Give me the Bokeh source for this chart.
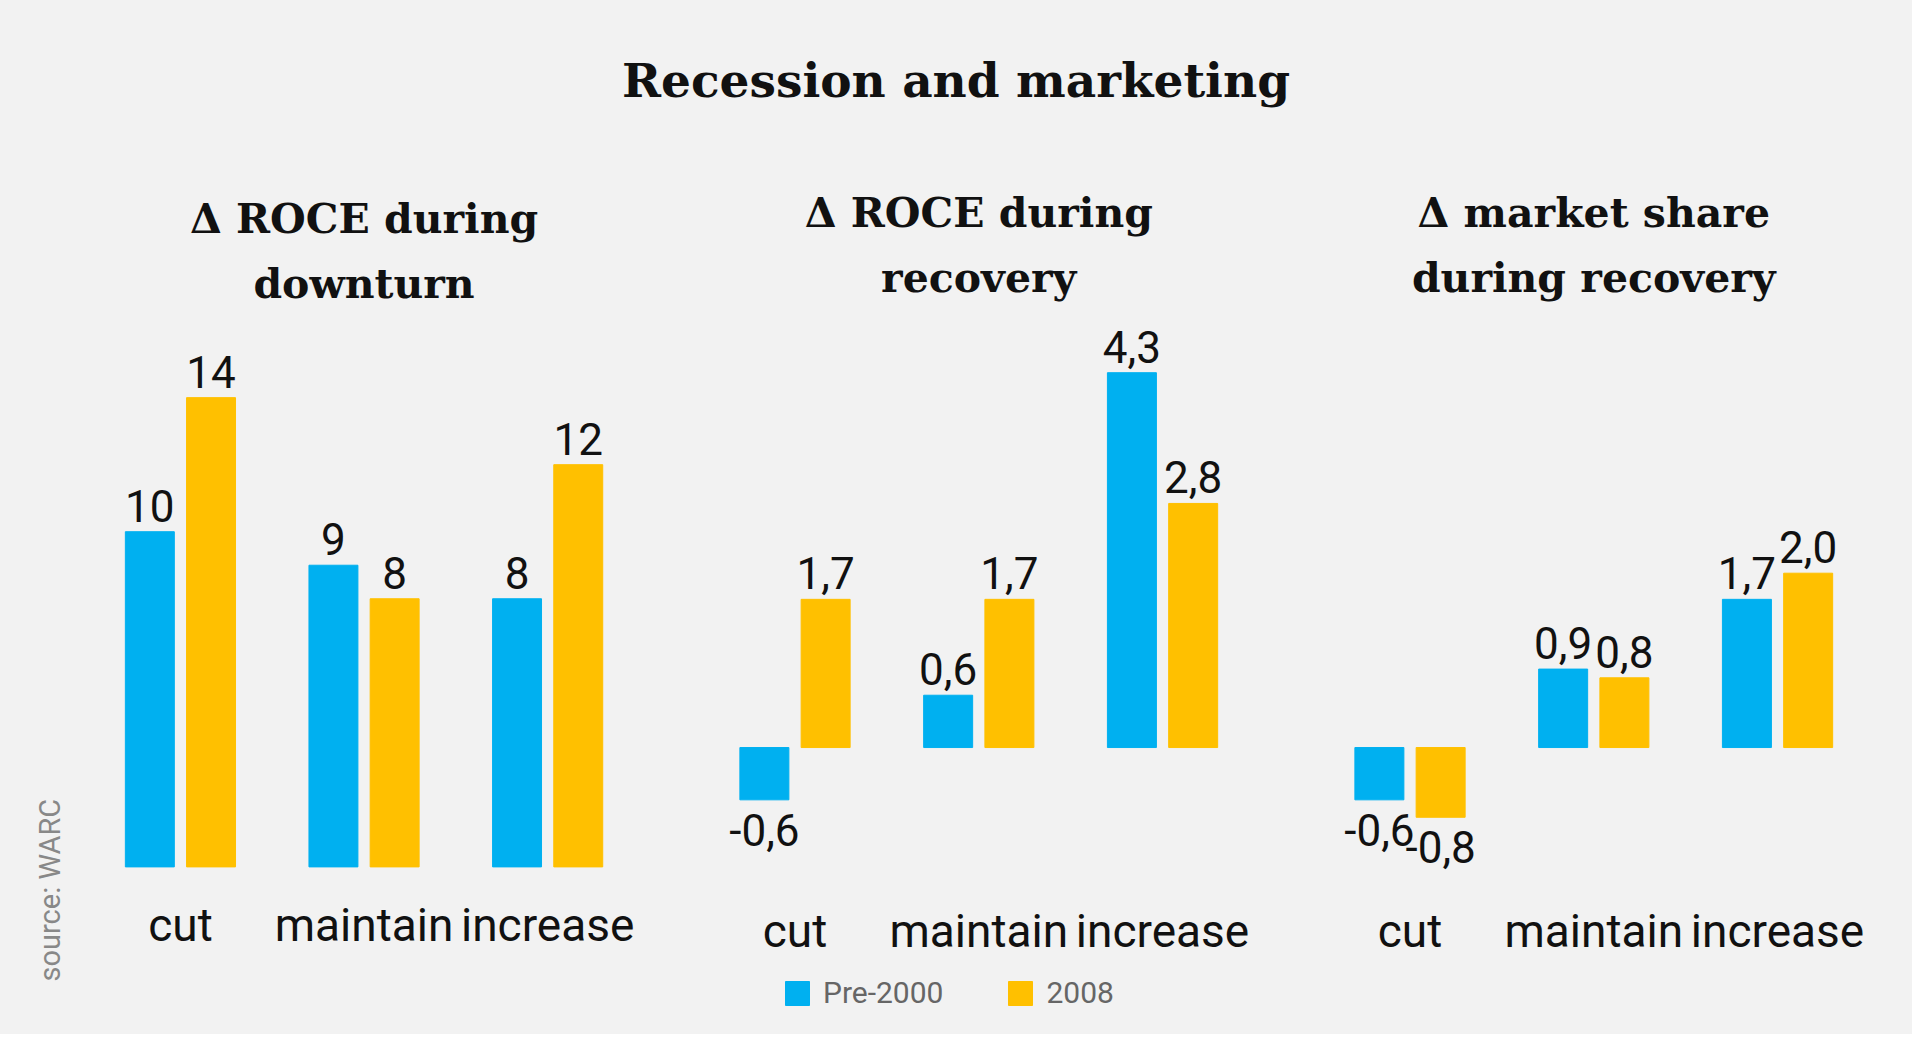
import math
from bokeh.plotting import figure
from bokeh.layouts import row, column
from bokeh.models import Label, Legend, LegendItem, ColumnDataSource, Div
from bokeh.core.properties import value
from bokeh.embed import file_html
from bokeh.resources import INLINE

categories = ["cut", "maintain", "increase"]
series = ["Pre-2000", "2008"]
roce_down_pre = [10, 9, 8]
roce_down_08 = [14, 8, 12]
roce_rec_pre = [-0.6, 0.6, 4.3]
roce_rec_08 = [1.7, 1.7, 2.8]
share_pre = [-0.6, 0.9, 1.7]
share_08 = [-0.8, 0.8, 2.0]
fmt_int = [True, False, False]
panel_titles = [["Δ ROCE during", "downturn"], ["Δ ROCE during", "recovery"], ["Δ market share", "during recovery"]]

BG = "#f2f2f2"
BLUE = "#00b0f0"
YEL = "#ffc000"
SV = 1024 / 849
TOP = 115
DIV_H = round(TOP * SV)
H = 1024 - DIV_H
SANS = "Roboto"
SERIF = "DejaVu Serif"

def fmt(v, as_int):
    return str(int(v)) if as_int else f"{v:.1f}".replace(".", ",")

def sy(y_shown):
    return (849 - y_shown) * SV

def panel(idx, pre, post, width, xr, yr, title_y, cat_y):
    p = figure(width=width, height=H, x_range=xr, y_range=yr, output_backend="svg",
               toolbar_location=None, background_fill_color=BG, border_fill_color=BG,
               min_border=0, outline_line_color=None)
    p.axis.visible = False
    p.grid.visible = False
    rends = []
    for j, (vals, col) in enumerate([(pre, BLUE), (post, YEL)]):
        xs = [g * 3 + j for g in range(3)]
        src = ColumnDataSource(dict(x=xs, top=vals))
        r = p.vbar(x="x", top="top", bottom=0, width=0.8, color=col, source=src)
        rends.append(r)
        txt = [fmt(v, fmt_int[idx]) for v in vals]
        pos = [i for i, v in enumerate(vals) if v >= 0]
        neg = [i for i, v in enumerate(vals) if v < 0]
        if pos:
            p.text(x=[xs[i] for i in pos], y=[vals[i] for i in pos], text=[txt[i] for i in pos],
                   text_align="center", text_baseline="bottom", y_offset=-10,
                   text_font=value(SANS), text_font_size="44px", text_color="#111111")
        if neg:
            p.text(x=[xs[i] for i in neg], y=[vals[i] for i in neg], text=[txt[i] for i in neg],
                   text_align="center", text_baseline="top", y_offset=14,
                   text_font=value(SANS), text_font_size="44px", text_color="#111111")
    for g, c in enumerate(categories):
        p.add_layout(Label(x=g * 3 + 0.5, y=cat_y, y_units="screen", text=c, text_align="center",
                           text_baseline="middle", text_font=SANS, text_font_size="46px",
                           text_color="#111111"))
    for k, line in enumerate(panel_titles[idx]):
        p.add_layout(Label(x=3.5, y=title_y[k], y_units="screen", text=line, text_align="center",
                           text_baseline="middle", text_font=SERIF, text_font_style="bold",
                           text_font_size="41px", text_color="#111111"))
    return p, rends

def yrange(base_shown, ppu):
    return (-(849 - base_shown) / ppu, (base_shown - TOP) / ppu)

y1 = yrange(710, 27.8)
y2 = yrange(611, 72.3)
p1, _ = panel(0, roce_down_pre, roce_down_08, 672, (-2.44, 8.54), y1, [sy(173), sy(227)], sy(758))
p2, r2 = panel(1, roce_rec_pre, roce_rec_08, 615, (-1.5, 8.54), y2, [sy(168), sy(222)], sy(763))
p3, _ = panel(2, share_pre, share_08, 615, (-1.5, 8.54), y2, [sy(168), sy(222)], sy(763))

p1.add_layout(Label(x=49, y=sy(805), x_units="screen", y_units="screen", text="source: WARC", angle=math.pi / 2,
                    text_align="left", text_baseline="middle", text_font=SANS, text_font_size="29px",
                    text_color="#888888"))
leg = Legend(items=[LegendItem(label=series[0], renderers=[r2[0]]), LegendItem(label=series[1], renderers=[r2[1]])],
             orientation="horizontal", location=(110, 24), background_fill_alpha=0, border_line_color=None,
             label_text_font=SANS, label_text_font_size="30px", label_text_color="#666666",
             glyph_width=30, glyph_height=30, padding=0, margin=0, spacing=62, label_standoff=11)
p2.add_layout(leg, "center")

title = Div(text="Recession and marketing", width=1902, height=DIV_H,
            styles={"font-family": SERIF, "font-weight": "bold", "font-size": "47px", "color": "#111111",
                    "text-align": "center", "width": "1902px", "line-height": f"{round(2 * 63 * SV)}px",
                    "background-color": BG})

layout = column(title, row(p1, p2, p3, spacing=0), spacing=0, styles={"background-color": BG})
open("out.html", "w").write(file_html(layout, INLINE))
